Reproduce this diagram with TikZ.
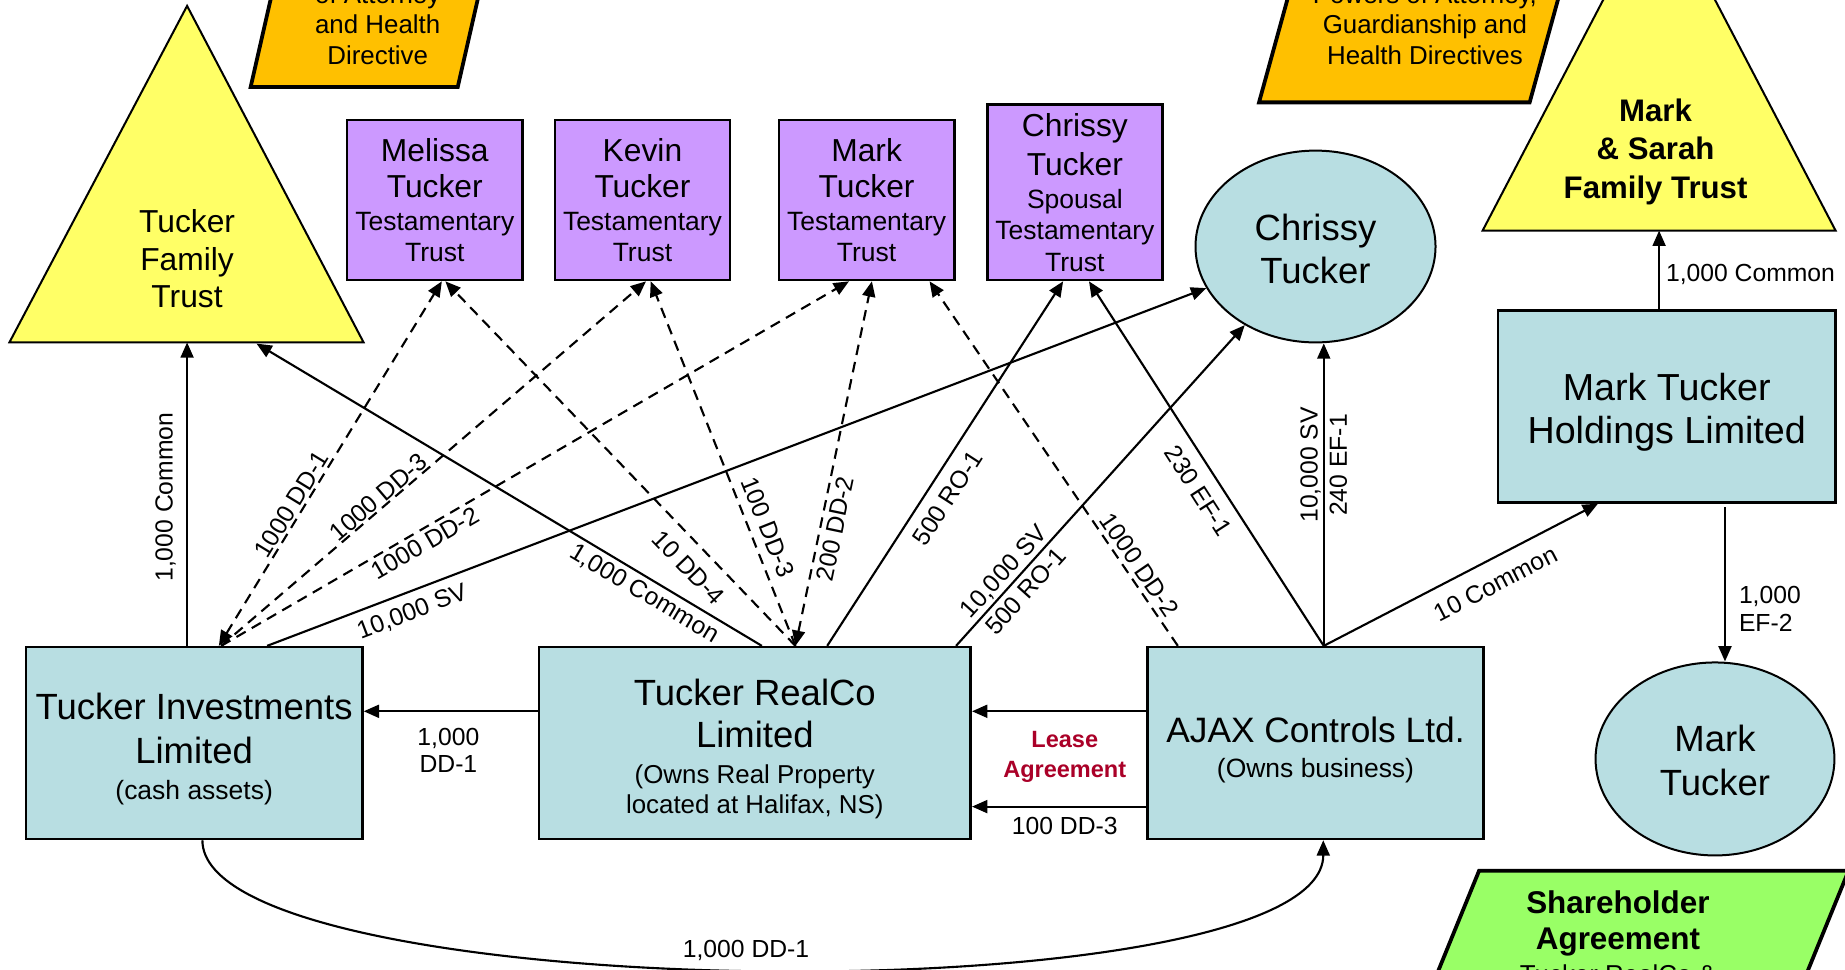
\documentclass[tikz,border=0pt]{standalone}
\usepackage{fontspec}
\setmainfont{Liberation Sans}
\usetikzlibrary{arrows.meta,calc,shapes.geometric}
\newcommand\setfs[2]{\fontsize{#1}{#2}\selectfont}
\newcommand\topstrut[1]{\rule{0pt}{#1}}
\definecolor{triyellow}{RGB}{255,255,102}
\definecolor{trustpurple}{RGB}{204,153,255}
\definecolor{coblue}{RGB}{184,222,226}
\definecolor{docorange}{RGB}{255,192,0}
\definecolor{docgreen}{RGB}{153,255,102}
\definecolor{leasered}{RGB}{170,0,40}
\begin{document}
\begin{tikzpicture}[x=1pt,y=-1pt,
  >={Triangle[length=13pt,width=11pt]},
  cobox/.style={draw=black, line width=2.2pt, fill=coblue, align=center, inner sep=0pt},
  trustbox/.style={draw=black, line width=2.2pt, fill=trustpurple, align=center, minimum width=149pt, inner sep=0pt},
  person/.style={ellipse, draw=black, line width=1.7pt, fill=coblue, align=center, inner sep=0pt, font={\setfs{31}{37}}},
  tri/.style={draw=black, line width=1.7pt, fill=triyellow, line join=miter},
  docpar/.style={draw=black, line width=3.2pt, line join=miter},
  conn/.style={line width=1.8pt, ->},
  dconn/.style={conn, dash pattern=on 9pt off 6pt},
  lbl/.style={font={\setfs{21}{24}}, align=center},
]
\useasboundingbox (0,0) rectangle (1568,824);
\clip (0,0) rectangle (1568,824);
\fill[white] (0,0) rectangle (1568,824);

% document parallelograms
\filldraw[docpar, fill=docorange] (213,74) -- (389,74) -- (415,-40) -- (239,-40) -- cycle;
\node[align=center, font={\setfs{22}{26}}] (poa1) at (321,21) {of Attorney\\and Health\\Directive};
\filldraw[docpar, fill=docorange] (1070,87) -- (1300,87) -- (1335,-40) -- (1105,-40) -- cycle;
\node[align=center, font={\setfs{22}{26}}] (poa2) at (1211,21) {Powers of Attorney,\\Guardianship and\\Health Directives};
\filldraw[docpar, fill=docgreen] (1257,740) -- (1571,740) -- (1518,870) -- (1204,870) -- cycle;
\node[align=center, font={\setfs{26.7}{31.2}\bfseries}] (sha) at (1375,796.5) {Shareholder\\Agreement\\[-2.4pt]\setfs{22}{26}\mdseries Tucker RealCo \&};

% trusts (triangles)
\filldraw[tri] (159,5) -- (309,291) -- (8,291) -- cycle;
\node[align=center, font={\setfs{27}{31.75}}] (tft) at (159,220) {Tucker\\Family\\Trust};
\coordinate (tftb1) at (159,291);
\coordinate (tftb2) at (218,292);
\filldraw[tri] (1410,-91) -- (1560,196) -- (1260,196) -- cycle;
\node[align=center, font={\setfs{26.5}{32.5}\bfseries}] (ms) at (1407,129) {Mark\\\& Sarah\\Family Trust};
\coordinate (msb) at (1410,196);

% testamentary trusts
\node[trustbox, minimum height=136pt, font={\setfs{27}{31}}] (mel) at (369.5,170) {Melissa\\Tucker\\[-3pt]\setfs{22.5}{27}Testamentary\\[-4.4pt]\setfs{22.5}{27}Trust};
\node[trustbox, minimum height=136pt, font={\setfs{27}{31}}] (kev) at (546,170) {Kevin\\Tucker\\[-3pt]\setfs{22.5}{27}Testamentary\\[-4.4pt]\setfs{22.5}{27}Trust};
\node[trustbox, minimum height=136pt, font={\setfs{27}{31}}] (mtt) at (736.5,170) {Mark\\Tucker\\[-3pt]\setfs{22.5}{27}Testamentary\\[-4.4pt]\setfs{22.5}{27}Trust};
\node[trustbox, minimum height=149pt, font={\setfs{27}{33}}] (cstt) at (913.5,163.5) {Chrissy\\Tucker\\[-5pt]\setfs{22.5}{27}Spousal\\[-6.1pt]\setfs{22.5}{27}Testamentary\\[-6.1pt]\setfs{22.5}{27}Trust};

% persons
\node[person, minimum width=204pt, minimum height=163pt] (ch) at (1118,209.5) {\topstrut{27pt}Chrissy\\Tucker};
\node[person, minimum width=203pt, minimum height=164pt] (mk) at (1457.5,645) {\topstrut{25pt}Mark\\Tucker};

% companies
\node[cobox, minimum width=286pt, minimum height=163pt, font={\setfs{31}{36.8}}] (ti) at (165,631.5) {\topstrut{33pt}Tucker Investments\\Limited\\[-5.8pt]\setfs{22.5}{27}(cash assets)};
\node[cobox, minimum width=367pt, minimum height=163pt, font={\setfs{31}{35.3}}] (rc) at (641.5,631.5) {\topstrut{33pt}Tucker RealCo\\Limited\\[-4.5pt]\setfs{22}{26}(Owns Real Property\\[-9.8pt]\setfs{22}{26}located at Halifax, NS)};
\node[cobox, minimum width=286pt, minimum height=163pt, font={\setfs{30}{35}}] (aj) at (1118,631.5) {\topstrut{33pt}AJAX Controls Ltd.\\[-5.1pt]\setfs{22.5}{27}(Owns business)};
\node[cobox, minimum width=287pt, minimum height=163pt, font={\setfs{32}{36.8}}] (mt) at (1416.5,345.5) {\topstrut{32.5pt}Mark Tucker\\Holdings Limited};

% connectors from Tucker Investments
\draw[conn] ($(ti.north)+(-6,0)$) -- (tftb1) node[lbl, sloped, pos=0.49, above, inner sep=8.7pt] {1,000 Common};
\draw[conn] ($(ti.north)+(62,0)$) -- (ch) node[lbl, sloped, pos=0.147, below, inner sep=7.6pt] {10,000 SV};
\draw[dconn, <->] ($(ti.north)+(21,0)$) -- ($(mel.south)+(6,0)$) node[lbl, sloped, pos=0.371, above, inner sep=1.6pt] {1000 DD-1};
\draw[dconn] ($(ti.north)+(23,0)$) -- ($(kev.south)+(3,0)$) node[lbl, sloped, pos=0.386, above, inner sep=0.5pt] {1000 DD-3};
\draw[dconn] ($(ti.north)+(23,0)$) -- ($(mtt.south)+(-15,0)$) node[lbl, sloped, pos=0.314, below, inner sep=3pt] {1000 DD-2};
\draw[conn] ($(ti.south)+(7,0)$) .. controls +(0,142) and +(0,151) .. ($(aj.south)+(6.6,0)$) node[lbl, pos=0.49, above, inner sep=6.5pt] {1,000 DD-1};

% connectors from Tucker RealCo
\draw[conn] ($(rc.north)+(6,0)$) -- (tftb2) node[lbl, sloped, pos=0.217, below, inner sep=3.8pt] {1,000 Common};
\draw[dconn] ($(rc.north)+(34.5,0)$) -- ($(mel.south)+(9,0)$) node[lbl, sloped, pos=0.258, below, inner sep=11pt] {10 DD-4};
\draw[dconn] ($(rc.north)+(34.5,0)$) -- ($(kev.south)+(7,0)$) node[lbl, sloped, pos=0.307, above, inner sep=7.3pt] {100 DD-3};
\draw[dconn, <->] ($(rc.north)+(34.5,0)$) -- ($(mtt.south)+(4.5,0)$) node[lbl, sloped, pos=0.33, below, inner sep=4.1pt] {200 DD-2};
\draw[conn] ($(rc.north)+(61.5,0)$) -- ($(cstt.south)+(-10,0)$) node[lbl, sloped, pos=0.437, below, inner sep=9.4pt] {500 RO-1};
\draw[conn] ($(rc.north)+(171,0)$) -- (ch) node[lbl, sloped, pos=0.202, font={\setfs{21}{25.5}}] {10,000 SV\\500 RO-1};
\draw[conn] ($(rc.west)+(0,-27)$) -- ($(ti.east)+(0,-27)$) node[lbl, pos=0.513, below, inner sep=13.4pt, font={\setfs{21}{23}}] {1,000\\DD-1};

% connectors from AJAX
\draw[conn] ($(aj.west)+(0,-27)$) -- ($(rc.east)+(0,-27)$) node[pos=0.467, below, inner sep=16pt, align=center, text=leasered, font={\setfs{20}{25.4}\bfseries}] {Lease\\Agreement};
\draw[conn] ($(aj.west)+(0,54)$) -- ($(rc.east)+(0,54)$) node[lbl, pos=0.467, below, inner sep=8.3pt] {100 DD-3};
\draw[dconn] ($(aj.north)+(-117,0)$) -- ($(mtt.south)+(53.5,0)$) node[lbl, sloped, pos=0.201, above, inner sep=3.7pt] {1000 DD-2};
\draw[conn] ($(aj.north)+(7,0)$) -- ($(cstt.south)+(12,0)$) node[lbl, sloped, pos=0.457, below, inner sep=9.9pt] {230 EF-1};
\draw[conn] ($(aj.north)+(7,0)$) -- ($(ch.south)+(7,0)$) node[lbl, sloped, pos=0.598, font={\setfs{21}{25}}] {10,000 SV\\240 EF-1};
\draw[conn] ($(aj.north)+(7,0)$) -- ($(mt.south)+(-58.5,0)$) node[lbl, sloped, pos=0.587, below, inner sep=12pt] {10 Common};

% connectors from Mark Tucker Holdings
\draw[conn] ($(mt.north)+(-6.5,0)$) -- (msb) node[lbl, pos=0.44, right, inner sep=5pt] {1,000 Common};
\draw[conn] ($(mt.south)+(49.5,3)$) -- ($(mk.north)+(8.5,0)$) node[lbl, pos=0.66, right, align=left, inner sep=11pt, font={\setfs{21}{23.6}}] {1,000\\EF-2};
\end{tikzpicture}
\end{document}
